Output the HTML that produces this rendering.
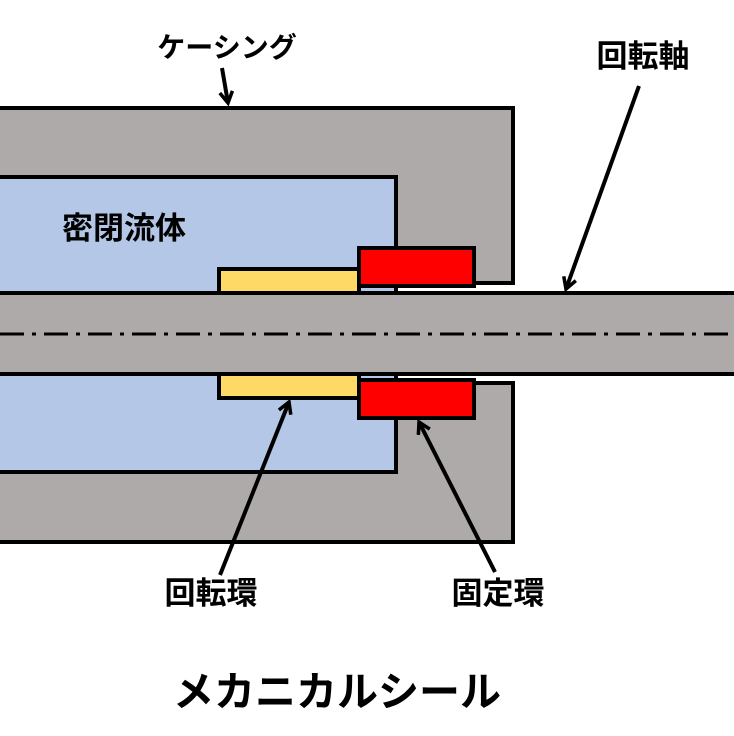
<!DOCTYPE html>
<html><head><meta charset="utf-8"><style>
html,body{margin:0;padding:0;background:#fff;}
svg text{font-family:"Liberation Sans","Noto Sans CJK JP",sans-serif;font-weight:bold;fill:#000;}
</style></head><body>
<svg width="734" height="731" viewBox="0 0 734 731" xmlns="http://www.w3.org/2000/svg">
<defs>
<marker id="ah" viewBox="0 0 10 10" refX="8" refY="5" markerWidth="4" markerHeight="4" orient="auto">
<path d="M1,1 L8,5 L1,9" fill="none" stroke="#000" stroke-width="2.2"/>
</marker>
</defs>
<g stroke="#000" stroke-width="4">
<rect x="-5" y="108" width="518" height="175" fill="#afaaaa"/>
<rect x="-5" y="383" width="518" height="159" fill="#afaaaa"/>
<rect x="-5" y="177" width="401" height="120" fill="#b4c7e7"/>
<rect x="-5" y="370" width="401" height="102" fill="#b4c7e7"/>
<rect x="219" y="269" width="140" height="25" fill="#ffd966"/>
<rect x="219" y="372" width="140" height="26" fill="#ffd966"/>
<rect x="359" y="248" width="115" height="38" fill="#ff0000"/>
<rect x="359" y="380" width="115" height="38" fill="#ff0000"/>
<rect x="-5" y="293" width="745" height="81" fill="#afaaaa"/>
</g>
<line x1="0" y1="334" x2="734" y2="334" stroke="#000" stroke-width="3" stroke-dasharray="24,8,4,8"/>
<g stroke="#000" stroke-width="4" fill="none" marker-end="url(#ah)">
<line x1="222" y1="68" x2="228" y2="103"/>
<line x1="639" y1="86" x2="566" y2="289"/>
<line x1="220" y1="575" x2="289" y2="402"/>
<line x1="495" y1="572" x2="419" y2="422"/>
</g>
<text x="227" y="57" font-size="28" text-anchor="middle">ケーシング</text>
<text x="643" y="67" font-size="31" text-anchor="middle">回転軸</text>
<text x="124" y="239" font-size="31" text-anchor="middle">密閉流体</text>
<text x="211" y="604" font-size="31" text-anchor="middle">回転環</text>
<text x="498" y="604" font-size="31" text-anchor="middle">固定環</text>
<text x="337" y="706" font-size="41" text-anchor="middle">メカニカルシール</text>
</svg>
</body></html>
